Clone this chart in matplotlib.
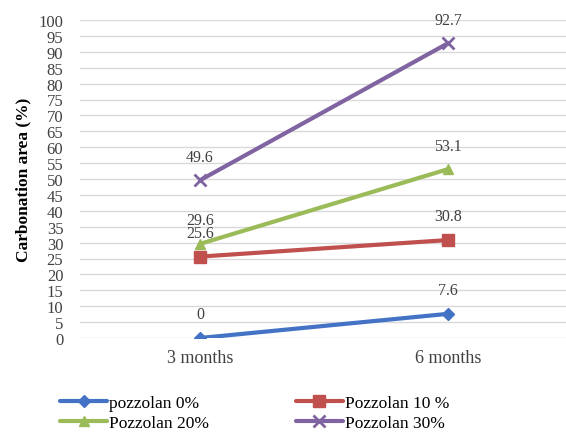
import numpy as np
import matplotlib.pyplot as plt

plt.rcParams['font.family'] = ['Liberation Serif', 'DejaVu Serif']

# Carbonation results per pozzolan replacement level
ages = ["3 months", "6 months"]
series_names = ["pozzolan 0%", "Pozzolan 10 %", "Pozzolan 20%", "Pozzolan 30%"]
pozz_0 = [0, 7.6]
pozz_10 = [25.6, 30.8]
pozz_20 = [29.6, 53.1]
pozz_30 = [49.6, 92.7]

colors = ["#4472C4", "#C0504D", "#9BBB59", "#8064A2"]
markers = ["D", "s", "^", "x"]
msizes = [6, 8, 7, 9]

fig = plt.figure(figsize=(5.66, 4.39), dpi=100)
ax = fig.add_axes([80 / 566, 1 - 339 / 439, (566 - 80) / 566, (339 - 21) / 439])

x = np.arange(len(ages))
lines = []
for vals, name, c, m, ms in zip([pozz_0, pozz_10, pozz_20, pozz_30], series_names,
                                colors, markers, msizes):
    ln, = ax.plot(x, vals, color=c, lw=3, marker=m, ms=ms, mew=2 if m == "x" else 1,
                  mec=c, mfc=c, label=name, solid_capstyle="round")
    lines.append(ln)
    for xi, v in zip(x, vals):
        ax.annotate(f"{v:g}", (xi, v), xytext=(0, 17), textcoords="offset points",
                    ha="center", va="center", fontsize=11.5, color="#404040")

ax.set_xlim(-120 / 248, 1 + 118 / 248)
ax.set_ylim(0, 100)
ax.set_yticks(np.arange(0, 101, 5))
ax.set_xticks(x)
ax.set_xticklabels(ages)
ax.tick_params(axis="both", length=0, labelcolor="#404040")
ax.tick_params(axis="y", pad=12, labelsize=12)
ax.tick_params(axis="x", pad=8, labelsize=13)
ax.grid(axis="y", color="#D9D9D9", lw=1)
ax.set_axisbelow(True)
for s in ax.spines.values():
    s.set_visible(False)

ax.set_ylabel("Carbonation area (%)", fontsize=12.5, fontweight="bold", labelpad=5)

# legend filled row by row: 0% / 10% on top, 20% / 30% below
order = [0, 2, 1, 3]
fig.legend([lines[i] for i in order], [series_names[i] for i in order],
           loc="center", bbox_to_anchor=(0.45, 1 - 414 / 439), ncol=2, frameon=False,
           fontsize=12.5, handlelength=2.7, handletextpad=0.1, columnspacing=5.0,
           labelspacing=0.25)

fig.savefig("out.png", dpi=100)
